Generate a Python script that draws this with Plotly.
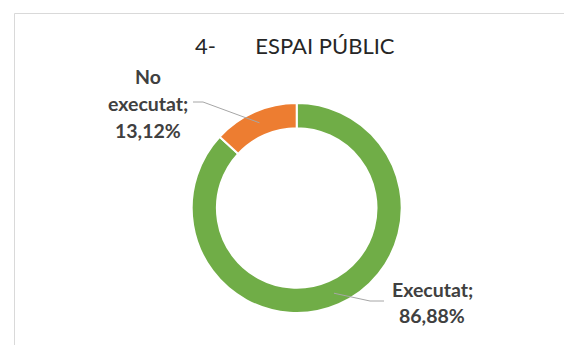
import math
import plotly.graph_objects as go

# Data
labels = ["Executat", "No executat"]
values = [86.88, 13.12]
value_text = ["86,88%", "13,12%"]
colors = ["#70AD47", "#ED7D31"]
title_text = "4-&nbsp;&nbsp;&nbsp;&nbsp;&nbsp;&nbsp;&nbsp;ESPAI PÚBLIC"

W, H = 564, 345

# Donut geometry in pixels
cx, cy = 296.7, 208.0
R_out = 105.0
hole = 0.76


def px(x):
    return x / W


def py(y):
    return 1 - y / H


fig = go.Figure(
    go.Pie(
        labels=labels,
        values=values,
        sort=False,
        direction="clockwise",
        rotation=0,
        hole=hole,
        textinfo="none",
        hoverinfo="label+percent",
        marker=dict(colors=colors, line=dict(color="white", width=2)),
        domain=dict(x=[px(cx - R_out), px(cx + R_out)],
                    y=[py(cy + R_out), py(cy - R_out)]),
        showlegend=False,
    )
)

# Mid-angle of each slice (clockwise from 12 o'clock)
total = sum(values)
mids = []
acc = 0.0
for v in values:
    mids.append((acc + v / 2) / total * 360.0)
    acc += v

r_anchor = 93.0
anchors = []
for a in mids:
    t = math.radians(a)
    anchors.append((cx + r_anchor * math.sin(t), cy - r_anchor * math.cos(t)))

label_font = dict(family="Lato, 'Open Sans', sans-serif", size=19.5, color="#404040")
leader = dict(color="#A6A6A6", width=1)

annotations = []
shapes = []

# "Executat" label (lower right)
ax, ay = anchors[0]
lx, ly = 432, 289
for i, line in enumerate(["<b>Executat;</b>", "<b>" + value_text[0] + "</b>"]):
    annotations.append(dict(x=px(lx), y=py(ly + i * 26), xref="paper", yref="paper",
                            text=line, showarrow=False, font=label_font,
                            xanchor="center", yanchor="middle"))
shapes.append(dict(type="path", xref="paper", yref="paper", line=leader,
                   path=f"M {px(ax)} {py(ay)} L {px(370)} {py(301)} L {px(384)} {py(301)}"))

# "No executat" label (upper left)
ax, ay = anchors[1]
lx, ly = 148, 76
for i, line in enumerate(["<b>No</b>", "<b>executat;</b>", "<b>" + value_text[1] + "</b>"]):
    annotations.append(dict(x=px(lx), y=py(ly + i * 27), xref="paper", yref="paper",
                            text=line, showarrow=False, font=label_font,
                            xanchor="center", yanchor="middle"))
shapes.append(dict(type="path", xref="paper", yref="paper", line=leader,
                   path=f"M {px(193)} {py(102)} L {px(203)} {py(102)} L {px(ax)} {py(ay)}"))

# Chart frame (left and top edges)
frame = dict(color="#D9D9D9", width=1)
shapes.append(dict(type="line", xref="paper", yref="paper", line=frame,
                   x0=px(14.5), x1=px(14.5), y0=py(13.5), y1=0))
shapes.append(dict(type="line", xref="paper", yref="paper", line=frame,
                   x0=px(14.5), x1=1, y0=py(13.5), y1=py(13.5)))

# Title
annotations.append(dict(x=px(295), y=py(45), xref="paper", yref="paper",
                        text=title_text, showarrow=False,
                        font=dict(family="Lato, 'Open Sans', sans-serif", size=22, color="#262626"),
                        xanchor="center", yanchor="middle"))

fig.update_layout(
    width=W, height=H,
    margin=dict(l=0, r=0, t=0, b=0),
    paper_bgcolor="white",
    plot_bgcolor="white",
    annotations=annotations,
    shapes=shapes,
)

fig.write_html("out.html")
